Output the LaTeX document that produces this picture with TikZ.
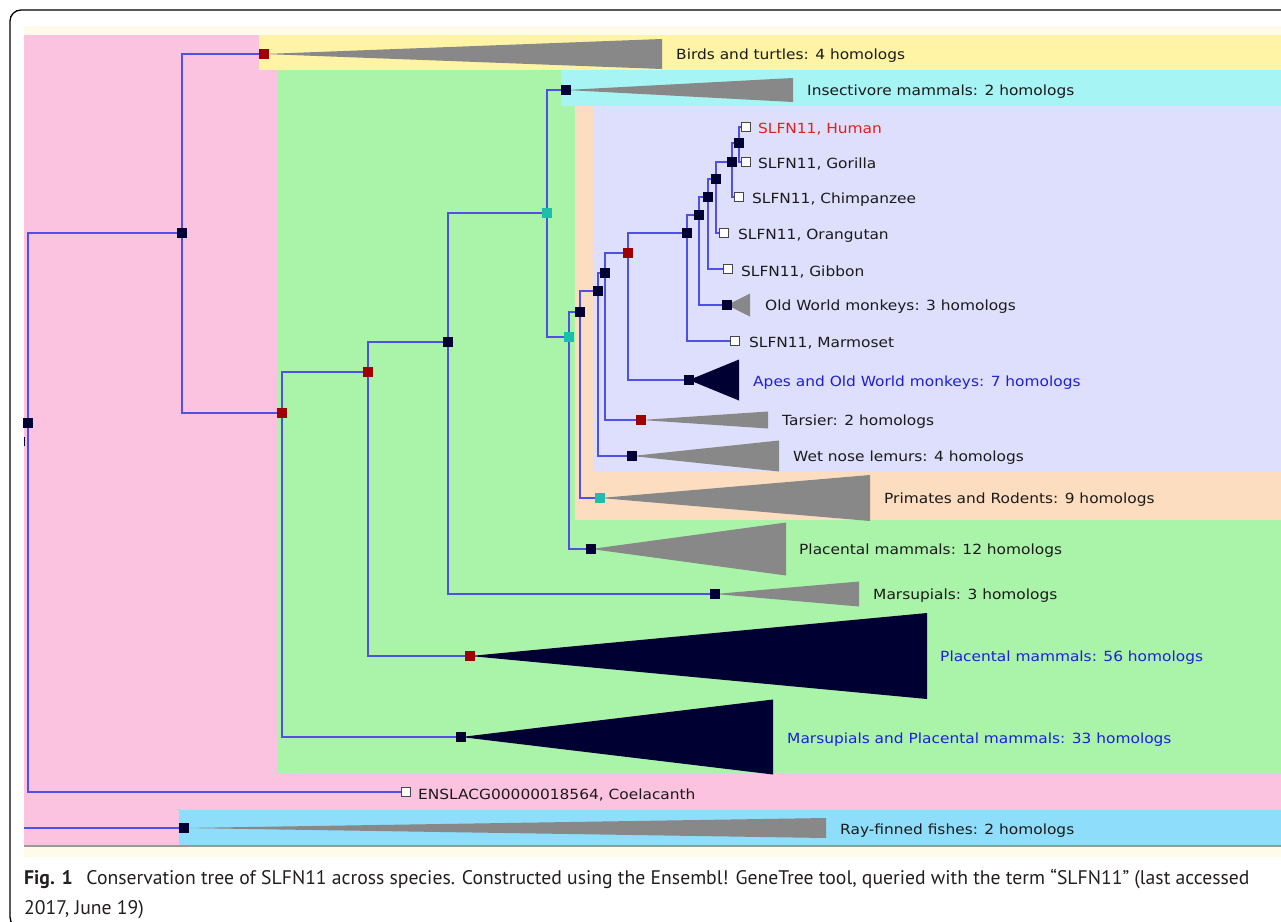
\documentclass[tikz,border=0pt]{standalone}
\usepackage{fontspec}
\usepackage{graphicx}
\newfontfamily\labfont[FakeStretch=1.1]{DejaVu Sans}
\newfontfamily\capfont{PT Sans}
\usetikzlibrary{calc}
\pgfdeclarelayer{back}
\pgfdeclarelayer{mid}
\pgfsetlayers{back,mid,main}
\definecolor{pinkbg}{RGB}{252,195,225}
\definecolor{yellowbg}{RGB}{255,243,166}
\definecolor{greenbg}{RGB}{170,244,170}
\definecolor{cyanbg}{RGB}{166,244,244}
\definecolor{peachbg}{RGB}{253,221,192}
\definecolor{lavbg}{RGB}{222,223,252}
\definecolor{bluebg}{RGB}{142,221,250}
\definecolor{creambg}{RGB}{255,251,235}
\definecolor{edgeblue}{RGB}{80,80,230}
\definecolor{navy}{RGB}{0,0,51}
\definecolor{dupred}{RGB}{160,0,0}
\definecolor{spteal}{RGB}{30,190,170}
\definecolor{trigray}{RGB}{136,136,136}
\definecolor{leafgray}{RGB}{70,70,70}
\definecolor{labblack}{RGB}{26,26,26}
\definecolor{labred}{RGB}{230,30,30}
\definecolor{labblue}{RGB}{30,30,220}
\definecolor{capcol}{RGB}{35,31,32}
\newcommand\cladetri[4]{\fill[#4] (#1.center) -- ++(#2,-#3) -- ++(0,2*#3) -- cycle;}
\tikzset{
  nblack/.style={rectangle, fill=navy, minimum size=10pt, inner sep=0pt},
  nred/.style={rectangle, fill=dupred, minimum size=10pt, inner sep=0pt},
  nteal/.style={rectangle, fill=spteal, minimum size=10pt, inner sep=0pt},
  nleaf/.style={rectangle, draw=leafgray, fill=white, minimum size=9pt, inner sep=0pt, line width=0.8pt},
  edgeln/.style={draw=edgeblue, line width=1.2pt},
  lab/.style={anchor=west, inner sep=0pt, yshift=-2pt, font=\labfont\fontsize{14}{16}\selectfont, text=labblack},
}
\begin{document}
\begin{tikzpicture}[x=1pt,y=-1pt]
\useasboundingbox (0,0) rectangle (1281,921);
% backgrounds
\begin{pgfonlayer}{back}
\fill[white] (0,0) rectangle (1281,921);
\fill[creambg] (24,26) rectangle (1281,35);
\fill[pinkbg] (24,35) rectangle (1281,846);
\fill[yellowbg] (259,35) rectangle (1281,70);
\fill[greenbg] (277,70) rectangle (1281,773);
\fill[cyanbg] (561,70) rectangle (1281,106);
\fill[peachbg] (575,106) rectangle (1281,520);
\fill[lavbg] (593,106) rectangle (1281,472);
\fill[bluebg] (179,810) rectangle (1281,845);
\fill[creambg] (24,847) rectangle (1281,857);
\draw[gray!80, line width=1.2pt] (24,846) -- (1281,846);
\end{pgfonlayer}
% frame
\draw[black, line width=1.3pt, rounded corners=11pt] (10,10) rectangle (1300,928);
% internal nodes
\node[nblack] (R) at (28,423) {};
\node[nblack] (n1) at (182,233) {};
\node[nred] (birds) at (264,54) {};
\node[nred] (n2) at (282,413) {};
\node[nred] (n3) at (368,372) {};
\node[nblack] (mp33) at (461,737) {};
\node[nblack] (n5) at (448,342) {};
\node[nred] (p56) at (470,656) {};
\node[nteal] (n7) at (547,213) {};
\node[nblack] (mar3) at (715,594) {};
\node[nblack] (ins) at (566,90) {};
\node[nteal] (n10) at (569,337) {};
\node[nblack] (n11) at (580,312) {};
\node[nblack] (p12) at (591,549) {};
\node[nblack] (n13) at (598,291) {};
\node[nteal] (prim) at (600,498) {};
\node[nblack] (n15) at (605,273) {};
\node[nblack] (wet) at (632,456) {};
\node[nred] (n17) at (628,253) {};
\node[nred] (tars) at (641,420) {};
\node[nblack] (n19) at (687,233) {};
\node[nblack] (apes) at (689,380) {};
\node[nblack] (n21) at (699,215) {};
\node[nblack] (n22) at (708,197) {};
\node[nblack] (owm) at (727,305) {};
\node[nblack] (n23) at (716,179) {};
\node[nblack] (n24) at (732,162) {};
\node[nblack] (n25) at (739,143) {};
\node[nblack] (ray) at (184,828) {};
% leaves
\node[nleaf] (human) at (746,127) {};
\node[nleaf] (gorilla) at (746,162) {};
\node[nleaf] (chimp) at (739,197) {};
\node[nleaf] (orang) at (724,233) {};
\node[nleaf] (gibbon) at (728,269) {};
\node[nleaf] (marmo) at (735,341) {};
\node[nleaf] (coel) at (406,792) {};
\coordinate (rayL) at (24,828);
% labels
\node[lab] (tbirds) at (676,54) {Birds and turtles: 4 homologs};
\node[lab] (tins) at (807,90) {Insectivore mammals: 2 homologs};
\node[lab, text=labred] (thuman) at (758,127) {SLFN11, Human};
\node[lab] (tgorilla) at (758,162) {SLFN11, Gorilla};
\node[lab] (tchimp) at (752,198) {SLFN11, Chimpanzee};
\node[lab] (torang) at (738,234) {SLFN11, Orangutan};
\node[lab] (tgibbon) at (741,270) {SLFN11, Gibbon};
\node[lab] (towm) at (765,305) {Old World monkeys: 3 homologs};
\node[lab] (tmarmo) at (749,341) {SLFN11, Marmoset};
\node[lab, text=labblue] (tapes) at (753,381) {Apes and Old World monkeys: 7 homologs};
\node[lab] (ttars) at (782,420) {Tarsier: 2 homologs};
\node[lab] (twet) at (793,456) {Wet nose lemurs: 4 homologs};
\node[lab] (tprim) at (884,498) {Primates and Rodents: 9 homologs};
\node[lab] (tp12) at (799,549) {Placental mammals: 12 homologs};
\node[lab] (tmar3) at (873,594) {Marsupials: 3 homologs};
\node[lab, text=labblue] (tp56) at (940,656) {Placental mammals: 56 homologs};
\node[lab, text=labblue] (tmp33) at (787,738) {Marsupials and Placental mammals: 33 homologs};
\node[lab] (tcoel) at (418,793) {ENSLACG00000018564, Coelacanth};
\node[lab] (tray) at (840,829) {Ray-finned fishes: 2 homologs};
% caption
\node[anchor=base west, inner sep=0pt, text=capcol] (cap) at (24,884) {\resizebox{1225pt}{!}{\capfont\fontsize{10}{15.4}\selectfont\begin{tabular}[t]{@{}l@{}}\textbf{Fig. 1}\hspace{0.7em}Conservation tree of SLFN11 across species. Constructed using the Ensembl! GeneTree tool, queried with the term “SLFN11” (last accessed\\2017, June 19)\end{tabular}}};
% triangles and edges
\begin{pgfonlayer}{mid}
\cladetri{birds}{398}{15}{trigray}
\cladetri{ins}{227}{12}{trigray}
\cladetri{owm}{23}{11.5}{trigray}
\cladetri{apes}{50}{20.5}{navy}
\cladetri{tars}{127}{8.5}{trigray}
\cladetri{wet}{147}{15.5}{trigray}
\cladetri{prim}{270}{23}{trigray}
\cladetri{p12}{195}{26.5}{trigray}
\cladetri{mar3}{144}{12.5}{trigray}
\cladetri{p56}{457}{43}{navy}
\cladetri{mp33}{312}{37.5}{navy}
\cladetri{ray}{642}{10}{trigray}
\draw[edgeln] (R) |- (n1);
\draw[edgeln] (R) |- (coel);
\draw[edgeln] (n1) |- (birds);
\draw[edgeln] (n1) |- (n2);
\draw[edgeln] (n2) |- (n3);
\draw[edgeln] (n2) |- (mp33);
\draw[edgeln] (n3) |- (n5);
\draw[edgeln] (n3) |- (p56);
\draw[edgeln] (n5) |- (n7);
\draw[edgeln] (n5) |- (mar3);
\draw[edgeln] (n7) |- (ins);
\draw[edgeln] (n7) |- (n10);
\draw[edgeln] (n10) |- (n11);
\draw[edgeln] (n10) |- (p12);
\draw[edgeln] (n11) |- (n13);
\draw[edgeln] (n11) |- (prim);
\draw[edgeln] (n13) |- (n15);
\draw[edgeln] (n13) |- (wet);
\draw[edgeln] (n15) |- (n17);
\draw[edgeln] (n15) |- (tars);
\draw[edgeln] (n17) |- (n19);
\draw[edgeln] (n17) |- (apes);
\draw[edgeln] (n19) |- (n21);
\draw[edgeln] (n19) |- (marmo);
\draw[edgeln] (n21) |- (n22);
\draw[edgeln] (n21) |- (owm);
\draw[edgeln] (n22) |- (n23);
\draw[edgeln] (n22) |- (gibbon);
\draw[edgeln] (n23) |- (n24);
\draw[edgeln] (n23) |- (orang);
\draw[edgeln] (n24) |- (n25);
\draw[edgeln] (n24) |- (chimp);
\draw[edgeln] (n25) |- (human);
\draw[edgeln] (n25) |- (gorilla);
\draw[edgeln] (rayL) -- (ray);
\draw[navy, line width=1pt] (24.6,437) -- (24.6,446);
\end{pgfonlayer}
\end{tikzpicture}
\end{document}
